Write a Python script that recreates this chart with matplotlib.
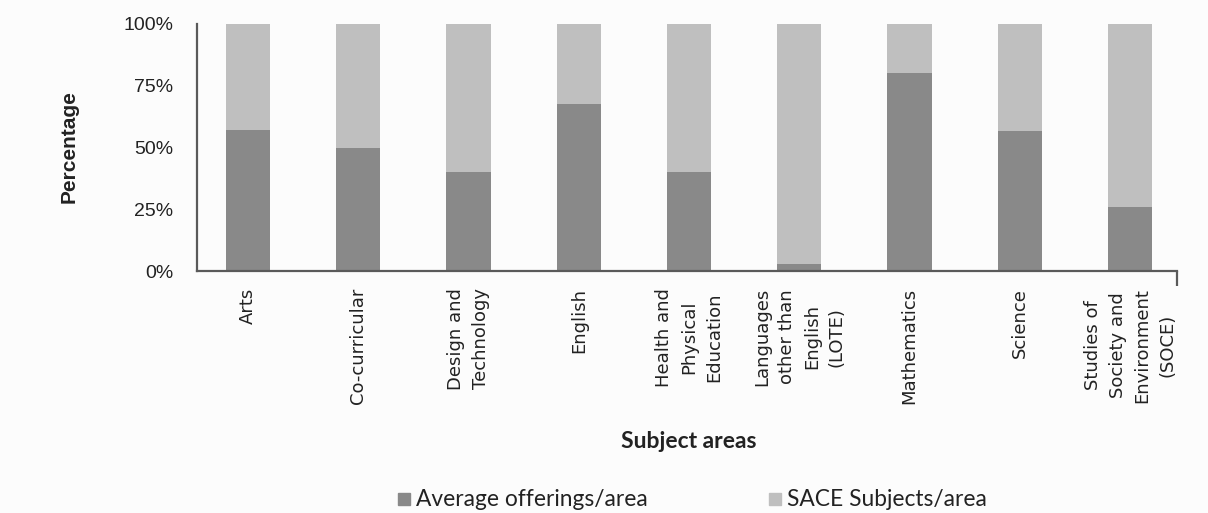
import matplotlib
matplotlib.use("Agg")
import matplotlib.pyplot as plt
from matplotlib.lines import Line2D
import numpy as np

categories = [
    "Arts",
    "Co-curricular",
    "Design and\nTechnology",
    "English",
    "Health and\nPhysical\nEducation",
    "Languages\nother than\nEnglish\n(LOTE)",
    "Mathematics",
    "Science",
    "Studies of\nSociety and\nEnvironment\n(SOCE)",
]
average_offerings = [57, 50, 40, 67.5, 40, 3, 80, 56.5, 26]
sace_subjects = [100 - v for v in average_offerings]
y_ticks = [0, 25, 50, 75, 100]
y_tick_labels = ["0%", "25%", "50%", "75%", "100%"]
series_names = ["Average offerings/area", "SACE Subjects/area"]

dark = "#898989"
light = "#bfbfbf"
axis_col = "#5a5a5a"
text_col = "#222222"
W, H = 1208, 513

fig = plt.figure(figsize=(W / 100, H / 100), dpi=100, facecolor="#fcfcfc")
ax = fig.add_axes([197 / W, 1 - 271 / H, (1177 - 197) / W, (271 - 24) / H])
ax.set_facecolor("#fcfcfc")

x = np.arange(len(categories))
ax.bar(x, average_offerings, width=0.40, color=dark, zorder=2)
ax.bar(x, sace_subjects, width=0.40, bottom=average_offerings, color=light, zorder=2)

x_lo, x_hi = -0.463, 8.426
ax.set_xlim(x_lo, x_hi)
ax.set_ylim(0, 100)

for s in ["top", "right"]:
    ax.spines[s].set_visible(False)
for s in ["left", "bottom"]:
    ax.spines[s].set_color(axis_col)
    ax.spines[s].set_linewidth(1.6)

ax.set_yticks(y_ticks)
ax.set_yticklabels(y_tick_labels, family="Liberation Sans", fontsize=14, color=text_col)
ax.tick_params(axis="y", length=0, pad=17)
ax.set_yticks([100], minor=True)
ax.tick_params(axis="y", which="minor", length=6, width=1.6, color=axis_col)

ax.set_xticks(x)
ax.set_xticklabels(categories, rotation=90, family="DejaVu Sans", fontsize=13,
                   color=text_col, multialignment="center", linespacing=1.5)
ax.tick_params(axis="x", length=0, pad=12)
ax.set_xticks([x_hi], minor=True)
ax.tick_params(axis="x", which="minor", length=11, width=1.6, color=axis_col)

fig.text(69 / W, 1 - 147 / H, "Percentage", rotation=90, ha="center", va="center",
         family="Liberation Sans", fontweight="bold", fontsize=15, color=text_col)
fig.text(689 / W, 1 - 442 / H, "Subject areas", ha="center", va="center",
         family="Lato", fontweight="bold", fontsize=16.5, color=text_col)

handles = [
    Line2D([], [], marker="s", linestyle="none", markersize=8.6, color=dark),
    Line2D([], [], marker="s", linestyle="none", markersize=8.6, color=light),
]
fig.legend(handles, series_names, loc="center", bbox_to_anchor=(692 / W, 1 - 500 / H),
           ncol=2, frameon=False, prop={"family": "Lato", "size": 16.4},
           handletextpad=0.2, columnspacing=5.3, handlelength=0.6,
           borderaxespad=0, borderpad=0, labelcolor=text_col)

fig.savefig("out.png", dpi=100, facecolor=fig.get_facecolor())
